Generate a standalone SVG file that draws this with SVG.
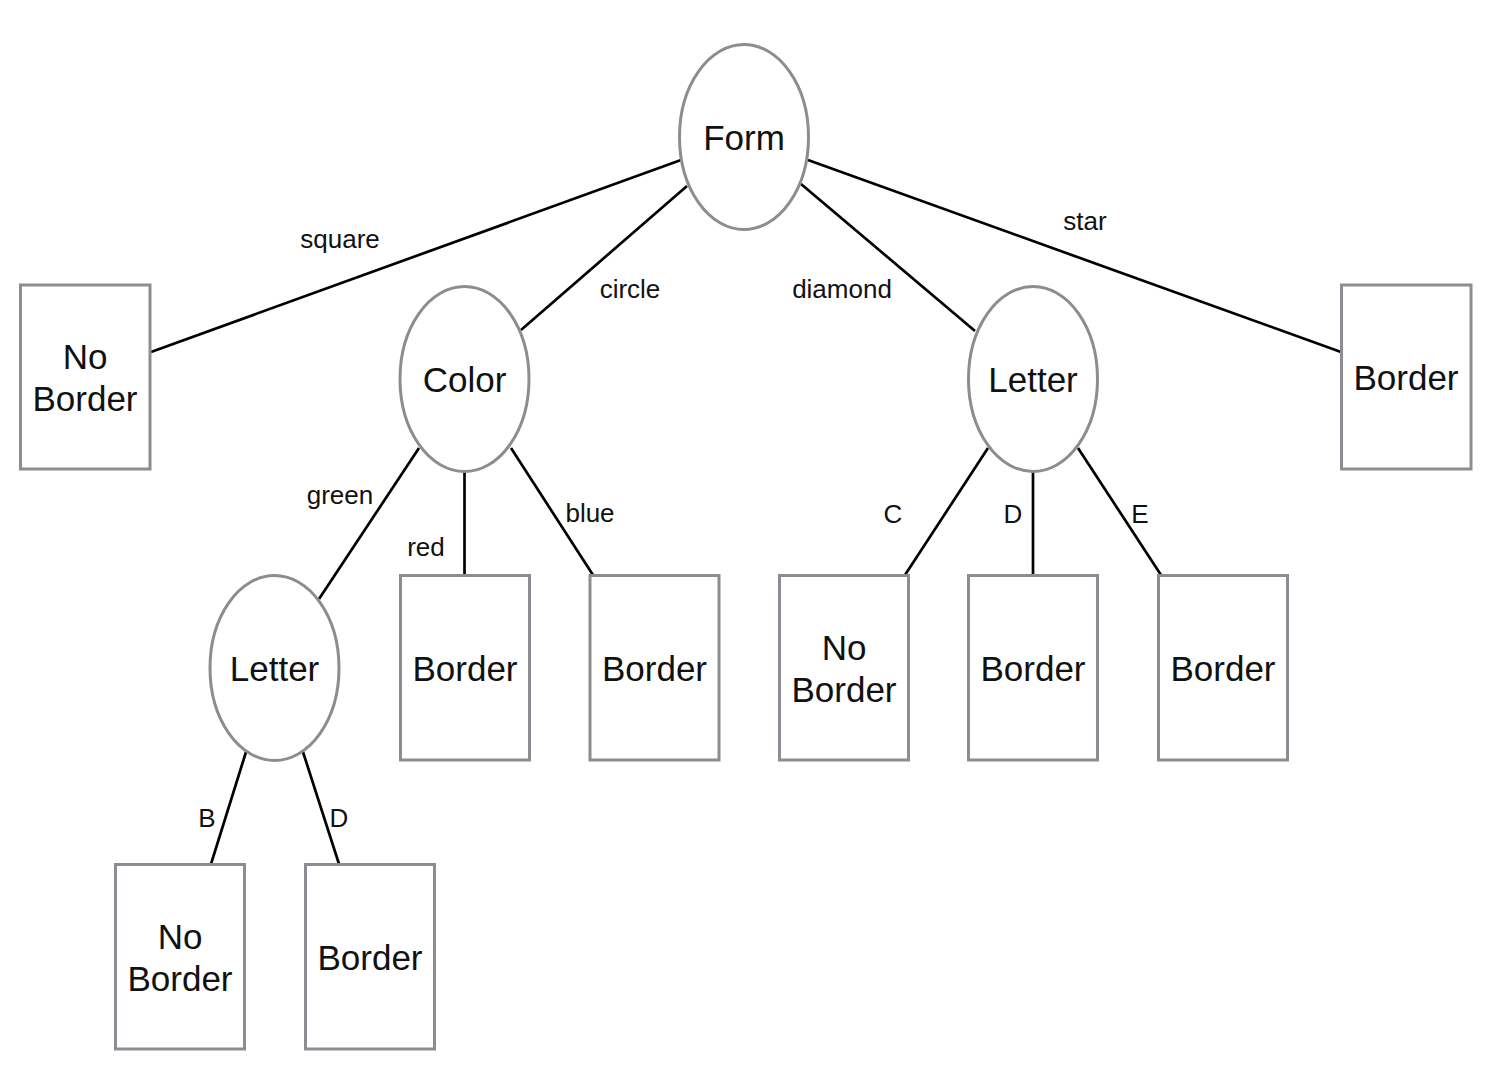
<svg xmlns="http://www.w3.org/2000/svg" width="1508" height="1078" viewBox="0 0 1508 1078">
<style>
.node{fill:#fff;stroke:#8a8d91;stroke-width:3}
.t{font-family:"Liberation Sans",Arial,sans-serif;font-size:35px;fill:#111;text-anchor:middle}
.l{font-family:"Liberation Sans",Arial,sans-serif;font-size:26px;fill:#111;text-anchor:middle}
.e{stroke:#000;stroke-width:2.7;fill:none}
</style>
<rect width="1508" height="1078" fill="#fff"/>
<g id="connectors">
<line class="e" x1="681" y1="160" x2="151" y2="352"/>
<line class="e" x1="687" y1="186" x2="521" y2="330"/>
<line class="e" x1="801" y1="184" x2="975" y2="331"/>
<line class="e" x1="808" y1="160" x2="1341" y2="352"/>
<line class="e" x1="419" y1="448" x2="319" y2="599"/>
<line class="e" x1="464.5" y1="472" x2="464.5" y2="575"/>
<line class="e" x1="511" y1="448" x2="593" y2="575"/>
<line class="e" x1="988" y1="448" x2="905" y2="575"/>
<line class="e" x1="1033" y1="472" x2="1033" y2="575"/>
<line class="e" x1="1078" y1="448" x2="1161" y2="575"/>
<line class="e" x1="246" y1="752" x2="211" y2="864"/>
<line class="e" x1="303" y1="752" x2="339" y2="864"/>
<text class="l" x="340" y="248">square</text>
<text class="l" x="630" y="298">circle</text>
<text class="l" x="842" y="298">diamond</text>
<text class="l" x="1085" y="230">star</text>
<text class="l" x="340" y="504">green</text>
<text class="l" x="426" y="556">red</text>
<text class="l" x="590" y="522">blue</text>
<text class="l" x="893" y="523">C</text>
<text class="l" x="1013" y="523">D</text>
<text class="l" x="1140" y="523">E</text>
<text class="l" x="207" y="827">B</text>
<text class="l" x="339" y="827">D</text>
</g>
<g id="form"><ellipse class="node" cx="744" cy="137" rx="64.5" ry="92.5"/><text class="t" x="744" y="150">Form</text></g>
<g id="color"><ellipse class="node" cx="464.5" cy="379" rx="64.5" ry="92.5"/><text class="t" x="464.5" y="392">Color</text></g>
<g id="letter1"><ellipse class="node" cx="1033" cy="379" rx="64.5" ry="92.5"/><text class="t" x="1033" y="392">Letter</text></g>
<g id="letter2"><ellipse class="node" cx="274.5" cy="668" rx="64.5" ry="92.5"/><text class="t" x="274.5" y="681">Letter</text></g>
<g id="sq"><rect class="node" x="20.5" y="285" width="129.5" height="184"/><text class="t" x="85" y="369">No</text><text class="t" x="85" y="411">Border</text></g>
<g id="star"><rect class="node" x="1341.5" y="285" width="129.5" height="184"/><text class="t" x="1406" y="390">Border</text></g>
<g id="red"><rect class="node" x="400.5" y="575.5" width="129" height="184.5"/><text class="t" x="465" y="681">Border</text></g>
<g id="blue"><rect class="node" x="590" y="575.5" width="129" height="184.5"/><text class="t" x="654.5" y="681">Border</text></g>
<g id="c"><rect class="node" x="779.5" y="575.5" width="129" height="184.5"/><text class="t" x="844" y="660">No</text><text class="t" x="844" y="702">Border</text></g>
<g id="d"><rect class="node" x="968.5" y="575.5" width="129" height="184.5"/><text class="t" x="1033" y="681">Border</text></g>
<g id="e"><rect class="node" x="1158.5" y="575.5" width="129" height="184.5"/><text class="t" x="1223" y="681">Border</text></g>
<g id="b"><rect class="node" x="115.5" y="864.5" width="129" height="184.5"/><text class="t" x="180" y="949">No</text><text class="t" x="180" y="991">Border</text></g>
<g id="d2"><rect class="node" x="305.5" y="864.5" width="129" height="184.5"/><text class="t" x="370" y="970">Border</text></g>
</svg>
